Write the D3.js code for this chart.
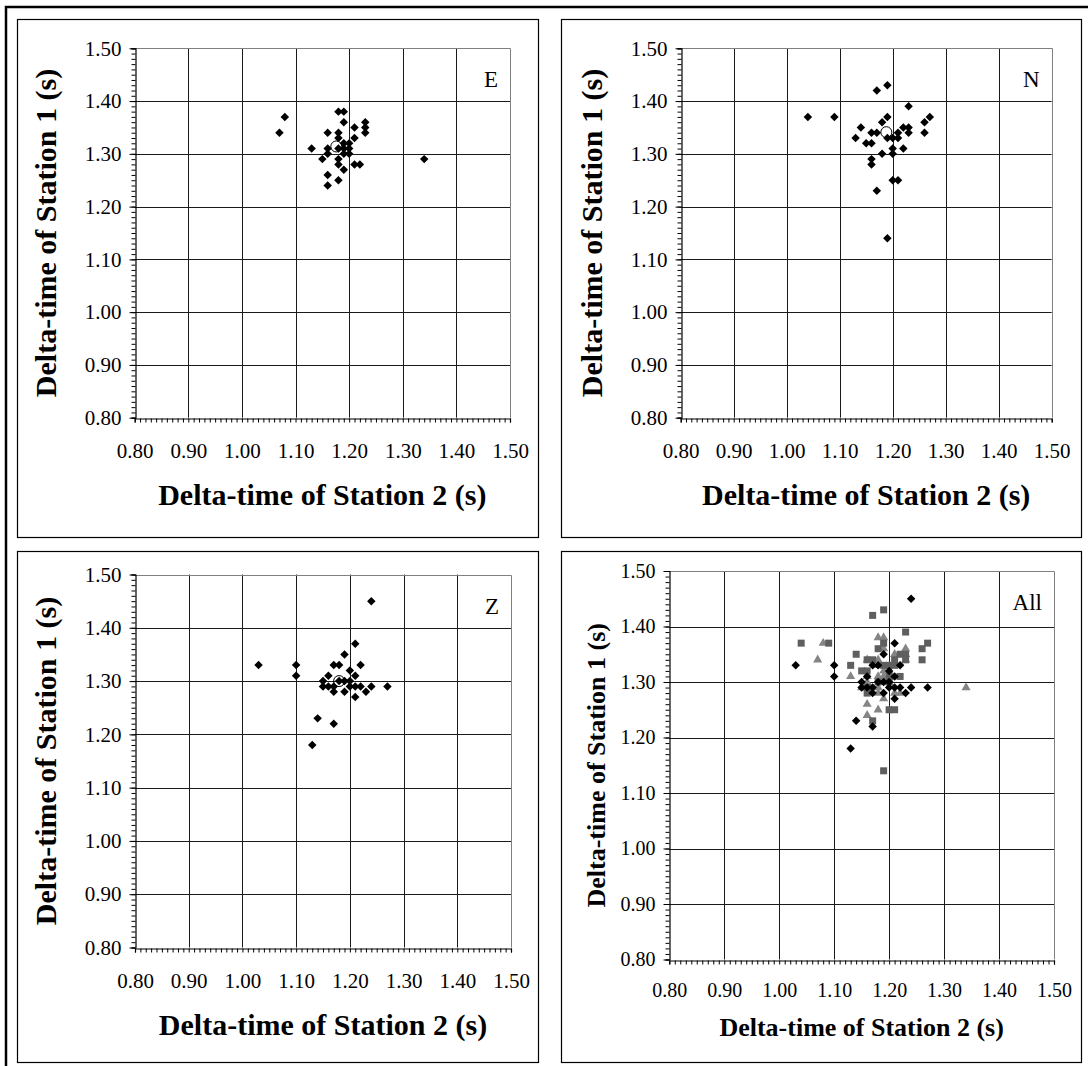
<!DOCTYPE html>
<html>
<head>
<meta charset="utf-8">
<script src="https://cdn.jsdelivr.net/npm/d3@7"></script>
<style>
  html, body { margin: 0; padding: 0; background: #fff; }
  svg { display: block; }
  text { font-family: "Liberation Serif", "Times New Roman", serif; fill: #000; }
</style>
</head>
<body>
<svg id="chart" width="1088" height="1066"></svg>
<script>
// ---------------- DATA ----------------
const tickValues = [0.80, 0.90, 1.00, 1.10, 1.20, 1.30, 1.40, 1.50];
const tickLabels = ["0.80", "0.90", "1.00", "1.10", "1.20", "1.30", "1.40", "1.50"];
const xTitle = "Delta-time of Station 2 (s)";
const yTitle = "Delta-time of Station 1 (s)";
const panelNames = ["E", "N", "Z", "All"];

// E component: [Station 2, Station 1]
const seriesE = [
  [1.08, 1.37], [1.07, 1.34], [1.18, 1.38], [1.19, 1.38], [1.19, 1.36],
  [1.21, 1.35], [1.23, 1.36], [1.23, 1.35], [1.23, 1.34], [1.16, 1.34],
  [1.18, 1.34], [1.18, 1.33], [1.21, 1.33], [1.13, 1.31], [1.16, 1.31],
  [1.16, 1.30], [1.18, 1.31], [1.19, 1.32], [1.19, 1.31], [1.19, 1.30],
  [1.20, 1.32], [1.20, 1.31], [1.20, 1.30], [1.15, 1.29], [1.18, 1.29],
  [1.18, 1.28], [1.21, 1.28], [1.22, 1.28], [1.19, 1.27], [1.16, 1.26],
  [1.18, 1.25], [1.16, 1.24], [1.34, 1.29]
];
// N component
const seriesN = [
  [1.04, 1.37], [1.09, 1.37], [1.17, 1.42], [1.19, 1.43], [1.23, 1.39],
  [1.26, 1.36], [1.27, 1.37], [1.26, 1.34], [1.14, 1.35], [1.18, 1.36],
  [1.19, 1.37], [1.13, 1.33], [1.16, 1.34], [1.17, 1.34], [1.15, 1.32],
  [1.16, 1.32], [1.19, 1.33], [1.20, 1.33], [1.21, 1.33], [1.21, 1.34],
  [1.22, 1.35], [1.23, 1.35], [1.23, 1.34], [1.20, 1.31], [1.22, 1.31],
  [1.18, 1.30], [1.20, 1.30], [1.16, 1.29], [1.16, 1.28], [1.20, 1.25],
  [1.21, 1.25], [1.17, 1.23], [1.19, 1.14]
];
// Z component
const seriesZ = [
  [1.24, 1.45], [1.03, 1.33], [1.10, 1.33], [1.10, 1.31], [1.21, 1.37],
  [1.19, 1.35], [1.17, 1.33], [1.18, 1.33], [1.22, 1.33], [1.16, 1.31],
  [1.20, 1.32], [1.21, 1.31], [1.15, 1.30], [1.18, 1.30], [1.19, 1.30],
  [1.20, 1.30], [1.15, 1.29], [1.16, 1.29], [1.17, 1.29], [1.20, 1.29],
  [1.21, 1.29], [1.22, 1.29], [1.24, 1.29], [1.27, 1.29], [1.17, 1.28],
  [1.19, 1.28], [1.23, 1.28], [1.21, 1.27], [1.14, 1.23], [1.17, 1.22],
  [1.13, 1.18]
];
// mean values (open circle markers)
const meanE = [1.176, 1.314];
const meanN = [1.188, 1.341];
const meanZ = [1.18, 1.30];

// ---------------- LAYOUT ----------------
const svg = d3.select("#chart");
svg.append("rect").attr("x", 6).attr("y", 7).attr("width", 1100).attr("height", 1100)
  .attr("fill", "none").attr("stroke", "#000").attr("stroke-width", 2.5);

const panels = [
  { name: panelNames[0], box: [17, 19, 521, 518], plot: [134.7, 48.3, 510, 417.7],
    layers: [{ data: seriesE, shape: "diamond", color: "#000" }], mean: meanE,
    tickFont: 21, titleFont: 30, xLabY: 39, xTitleY: 87, yTitleX: 79 },
  { name: panelNames[1], box: [561, 19, 520, 518], plot: [680.7, 48.3, 1051.7, 417.7],
    layers: [{ data: seriesN, shape: "diamond", color: "#000" }], mean: meanN,
    tickFont: 21, titleFont: 30, xLabY: 39, xTitleY: 87, yTitleX: 79 },
  { name: panelNames[2], box: [17, 551, 521, 511], plot: [135, 574.5, 511, 947.5],
    layers: [{ data: seriesZ, shape: "diamond", color: "#000" }], mean: meanZ,
    tickFont: 21, titleFont: 30, xLabY: 39, xTitleY: 87, yTitleX: 79 },
  { name: panelNames[3], box: [561, 551, 520, 511], plot: [669.3, 571, 1054, 959.5],
    layers: [
      { data: seriesE, shape: "triangle", color: "#858585" },
      { data: seriesN, shape: "square", color: "#5f5f5f" },
      { data: seriesZ, shape: "diamond", color: "#000" }
    ], mean: null,
    tickFont: 20, titleFont: 26, xLabY: 36, xTitleY: 76, yTitleX: 64 }
];

const squareDiamond = {
  draw(ctx, size) {
    const r = Math.sqrt(size / 2);
    ctx.moveTo(0, -r); ctx.lineTo(r, 0); ctx.lineTo(0, r); ctx.lineTo(-r, 0); ctx.closePath();
  }
};
const symbolFor = {
  diamond: d3.symbol().type(squareDiamond).size(36),
  square: d3.symbol().type(d3.symbolSquare).size(49),
  triangle: d3.symbol().type(d3.symbolTriangle).size(36)
};

panels.forEach(p => {
  const [bx, by, bw, bh] = p.box;
  const [x0, y0, x1, y1] = p.plot;
  const g = svg.append("g");

  g.append("rect").attr("x", bx + 0.5).attr("y", by + 0.5).attr("width", bw).attr("height", bh)
    .attr("fill", "#fff").attr("stroke", "#000").attr("stroke-width", 1.2);

  const x = d3.scaleLinear().domain([0.80, 1.50]).range([x0, x1]);
  const y = d3.scaleLinear().domain([0.80, 1.50]).range([y1, y0]);

  // gridlines
  const inner = tickValues.slice(1, -1);
  g.append("g").selectAll("line").data(inner).join("line")
    .attr("x1", d => Math.round(x(d)) + 0.5).attr("x2", d => Math.round(x(d)) + 0.5)
    .attr("y1", y0).attr("y2", y1).attr("stroke", "#1a1a1a").attr("stroke-width", 1);
  g.append("g").selectAll("line").data(inner).join("line")
    .attr("y1", d => Math.round(y(d)) + 0.5).attr("y2", d => Math.round(y(d)) + 0.5)
    .attr("x1", x0).attr("x2", x1).attr("stroke", "#1a1a1a").attr("stroke-width", 1);
  // plot area top/right border
  g.append("path")
    .attr("d", `M${x0},${Math.round(y0) + 0.5}H${Math.round(x1) + 0.5}V${y1}`)
    .attr("fill", "none").attr("stroke", "#808080").attr("stroke-width", 1);

  // minor ticks every 0.01
  const minor = d3.range(80, 151).map(v => v / 100);
  const yMinor = g.append("g").attr("transform", `translate(${Math.round(x0) + 0.5},0)`)
    .call(d3.axisLeft(y).tickValues(minor).tickSize(4).tickFormat(""));
  const xMinor = g.append("g").attr("transform", `translate(0,${Math.round(y1) + 0.5})`)
    .call(d3.axisBottom(x).tickValues(minor).tickSize(4).tickFormat(""));
  [yMinor, xMinor].forEach(a => {
    a.selectAll("line").attr("stroke", "#000").attr("stroke-width", 1);
    a.select(".domain").attr("stroke", "#000").attr("stroke-width", 1.2);
  });

  // major ticks & labels
  const yAxis = g.append("g").attr("transform", `translate(${Math.round(x0) + 0.5},0)`)
    .call(d3.axisLeft(y).tickValues(tickValues).tickSize(6).tickPadding(8)
      .tickFormat((d, i) => tickLabels[i]));
  yAxis.select(".domain").remove();
  yAxis.selectAll("line").attr("stroke", "#000");
  yAxis.selectAll("text").attr("font-size", p.tickFont)
    .style("font-family", "'Liberation Serif', serif");

  const xAxis = g.append("g").attr("transform", `translate(0,${Math.round(y1) + 0.5})`)
    .call(d3.axisBottom(x).tickValues(tickValues).tickSize(0)
      .tickFormat((d, i) => tickLabels[i]));
  xAxis.select(".domain").remove();
  xAxis.selectAll("text").attr("font-size", p.tickFont).attr("dy", null).attr("y", p.xLabY)
    .style("font-family", "'Liberation Serif', serif");

  // points
  p.layers.forEach(layer => {
    g.append("g").selectAll("path").data(layer.data).join("path")
      .attr("transform", d => `translate(${x(d[0])},${y(d[1])})`)
      .attr("d", symbolFor[layer.shape]())
      .attr("fill", layer.color);
  });

  // mean circle
  if (p.mean) {
    g.append("circle").attr("cx", x(p.mean[0])).attr("cy", y(p.mean[1])).attr("r", 5.5)
      .attr("fill", "none").attr("stroke", "#000").attr("stroke-width", 1);
  }

  // panel label
  g.append("text").attr("x", x1 - 12).attr("y", y0 + 39)
    .attr("text-anchor", "end").attr("font-size", 23).text(p.name);

  // axis titles
  g.append("text").attr("x", (x0 + x1) / 2).attr("y", y1 + p.xTitleY)
    .attr("text-anchor", "middle").attr("font-weight", "bold").attr("font-size", p.titleFont)
    .text(xTitle);
  g.append("text")
    .attr("transform", `translate(${x0 - p.yTitleX},${(y0 + y1) / 2}) rotate(-90)`)
    .attr("text-anchor", "middle").attr("font-weight", "bold").attr("font-size", p.titleFont)
    .text(yTitle);
});
</script>
</body>
</html>
